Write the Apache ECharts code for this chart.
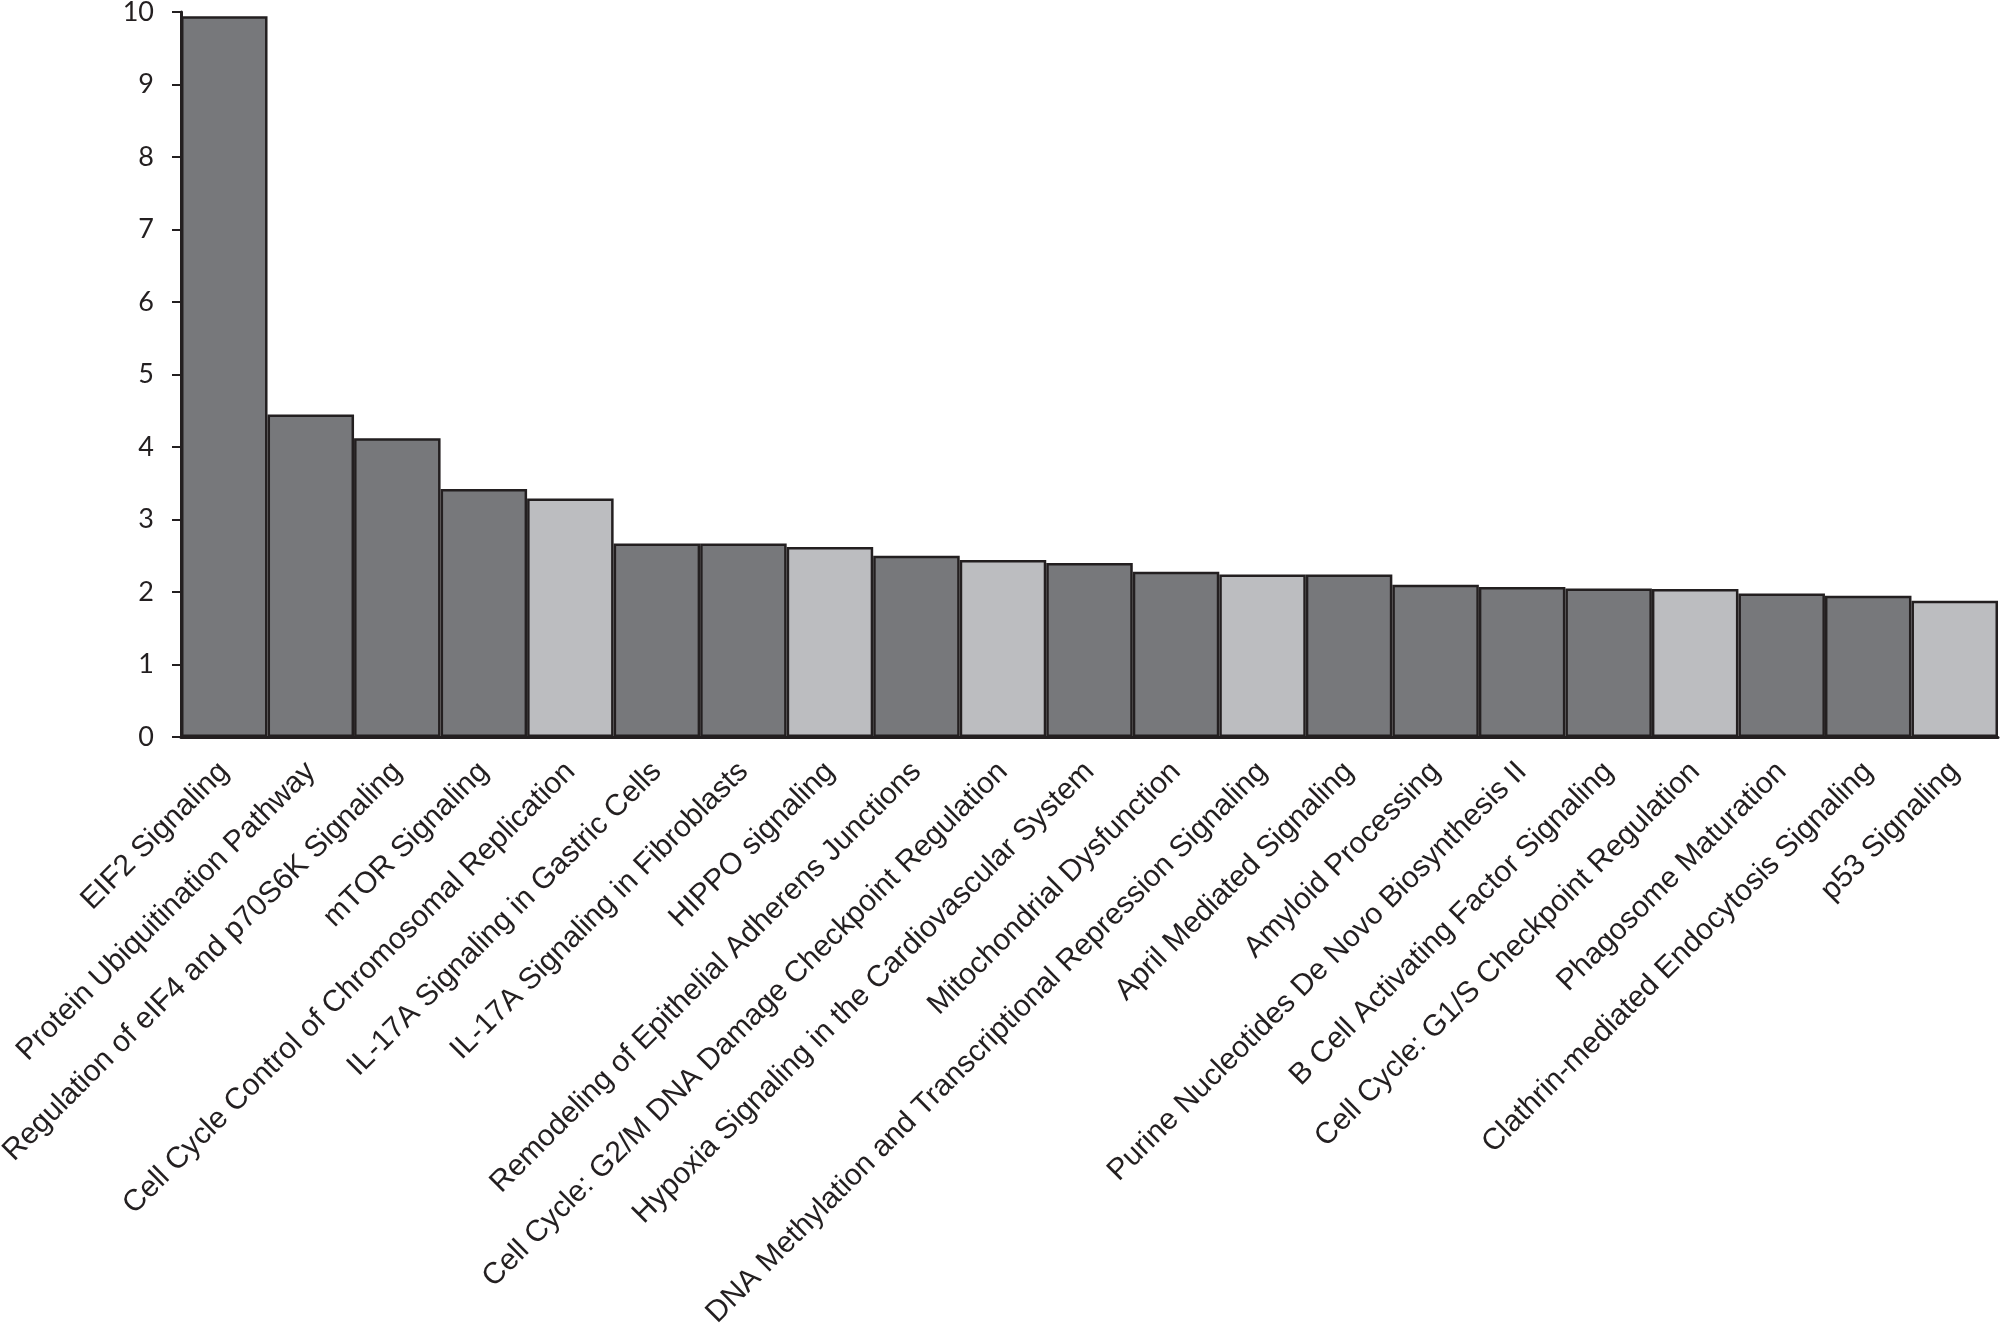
<!DOCTYPE html>
<html>
<head>
<meta charset="utf-8">
<script src="https://cdn.jsdelivr.net/npm/echarts@6/dist/echarts.min.js"></script>
<style>
html,body{margin:0;padding:0;background:#fff;}
#chart{width:2000px;height:1327px;}
</style>
</head>
<body>
<div id="chart"></div>
<script>
const categories = [
  "EIF2 Signaling",
  "Protein Ubiquitination Pathway",
  "Regulation of eIF4 and p70S6K Signaling",
  "mTOR Signaling",
  "Cell Cycle Control of Chromosomal Replication",
  "IL-17A Signaling in Gastric Cells",
  "IL-17A Signaling in Fibroblasts",
  "HIPPO signaling",
  "Remodeling of Epithelial Adherens Junctions",
  "Cell Cycle: G2/M DNA Damage Checkpoint Regulation",
  "Hypoxia Signaling in the Cardiovascular System",
  "Mitochondrial Dysfunction",
  "DNA Methylation and Transcriptional Repression Signaling",
  "April Mediated Signaling",
  "Amyloid Processing",
  "Purine Nucleotides De Novo Biosynthesis II",
  "B Cell Activating Factor Signaling",
  "Cell Cycle: G1/S Checkpoint Regulation",
  "Phagosome Maturation",
  "Clathrin-mediated Endocytosis Signaling",
  "p53 Signaling"
];
const values = [9.94, 4.45, 4.12, 3.42, 3.29, 2.67, 2.67, 2.62, 2.50, 2.44, 2.40, 2.28, 2.24, 2.24, 2.10, 2.07, 2.05, 2.04, 1.98, 1.95, 1.88];
// 1 = light grey group, 0 = dark grey group
const groups = [0, 0, 0, 0, 1, 0, 0, 1, 0, 1, 0, 0, 1, 0, 0, 0, 0, 1, 0, 0, 1];
const yTicks = [0, 1, 2, 3, 4, 5, 6, 7, 8, 9, 10];

const DARK = '#77787b', LIGHT = '#bcbdc0', INK = '#231f20';

const chart = echarts.init(document.getElementById('chart'), null, {renderer: 'canvas'});
chart.setOption({
  animation: false,
  backgroundColor: '#fff',
  grid: {left: 181, right: 2, top: 12, bottom: 590, containLabel: false, outerBoundsMode: 'none'},
  xAxis: {
    type: 'category',
    data: categories,
    axisLine: {show: true, lineStyle: {color: INK, width: 3}},
    axisTick: {show: false},
    axisLabel: {
      rotate: 45,
      interval: 0,
      margin: 30,
      fontFamily: '"Liberation Sans", Arial, sans-serif',
      fontSize: 30,
      color: INK
    },
    splitLine: {show: false}
  },
  yAxis: {
    type: 'value',
    min: yTicks[0],
    max: yTicks[yTicks.length - 1],
    interval: 1,
    axisLine: {show: true, lineStyle: {color: INK, width: 3}},
    axisTick: {show: true, inside: false, length: 9, lineStyle: {color: INK, width: 2}},
    axisLabel: {
      margin: 27,
      fontFamily: 'Lato, "Open Sans", sans-serif',
      fontSize: 27,
      color: INK
    },
    splitLine: {show: false}
  },
  series: [{
    type: 'bar',
    barCategoryGap: '0%',
    data: values.map((v, i) => ({
      value: v,
      itemStyle: {color: groups[i] ? LIGHT : DARK}
    })),
    itemStyle: {borderColor: INK, borderWidth: 2.5}
  }]
});
</script>
</body>
</html>
